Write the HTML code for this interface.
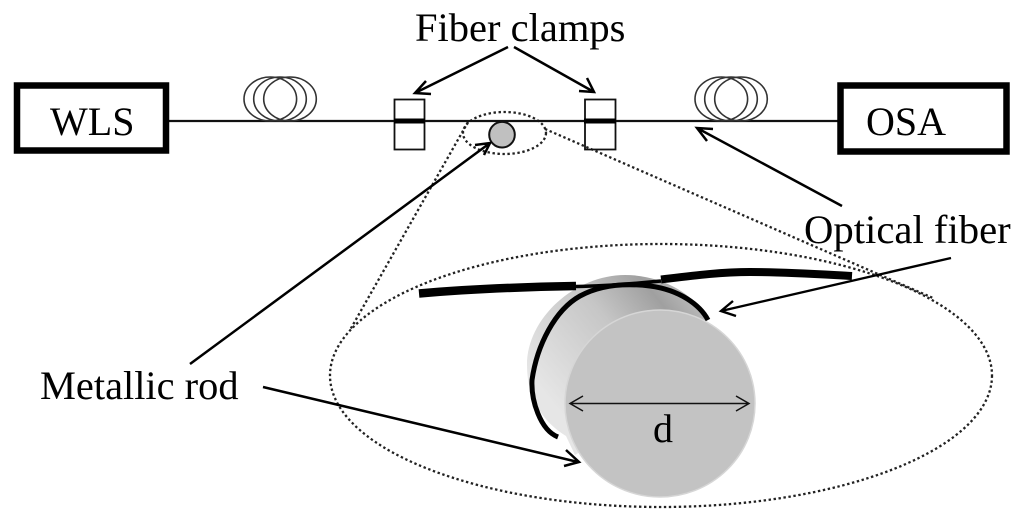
<!DOCTYPE html>
<html><head><meta charset="utf-8"><style>
html,body{margin:0;padding:0;background:#fff;width:1024px;height:522px;overflow:hidden}
svg{display:block}
text{font-family:"Liberation Serif",serif;fill:#000}
</style></head><body>
<svg width="1024" height="522" viewBox="0 0 1024 522" xmlns="http://www.w3.org/2000/svg">
<defs>
<linearGradient id="b" gradientUnits="userSpaceOnUse" x1="545" y1="395" x2="680" y2="285">
<stop offset="0" stop-color="#e6e6e6"/><stop offset=".55" stop-color="#c6c6c6"/><stop offset=".85" stop-color="#a0a0a0"/><stop offset="1" stop-color="#b8b8b8"/>
</linearGradient>
</defs>
<!-- dotted -->
<g fill="none" stroke="#222" stroke-width="2.300" stroke-dasharray="2.400 2.600">
<ellipse cx="661" cy="375.500" rx="331" ry="131.500"/>
<ellipse cx="504.500" cy="133" rx="41.500" ry="21"/>
<path d="M468 122L350 330M545 129L933 298"/>
</g>
<!-- main line -->
<path d="M168 121H838" stroke="#111" stroke-width="2.200" fill="none"/>
<!-- boxes -->
<rect x="17" y="85.500" width="149" height="65" fill="#fff" stroke="#000" stroke-width="6.500"/>
<rect x="840.500" y="85.500" width="166" height="66" fill="#fff" stroke="#000" stroke-width="6.500"/>
<!-- coils -->
<g fill="none" stroke="#333" stroke-width="1.600">
<ellipse cx="270.300" cy="99" rx="26.300" ry="22"/><ellipse cx="280" cy="99" rx="26.300" ry="22"/><ellipse cx="290" cy="99" rx="26.300" ry="22"/>
<ellipse cx="721.300" cy="99" rx="26.300" ry="22"/><ellipse cx="731" cy="99" rx="26.300" ry="22"/><ellipse cx="741" cy="99" rx="26.300" ry="22"/>
</g>
<!-- clamps -->
<g fill="none" stroke="#111" stroke-width="1.800">
<rect x="394.500" y="99.500" width="30" height="50"/><rect x="585" y="99.500" width="30.500" height="50"/>
</g>
<path d="M394 121H425M584 121H616" stroke="#000" stroke-width="5"/>
<!-- small rod -->
<circle cx="502" cy="134.700" r="12.800" fill="#c0c0c0" stroke="#111" stroke-width="2"/>
<!-- cylinder -->
<path d="M527 365C527 318 575 275 625 275C660 275 692 292 708 318L660 403L575 455L566 436C540 420 527 395 527 365Z" fill="url(#b)"/>
<ellipse cx="660" cy="403.500" rx="95" ry="93.500" fill="#c3c3c3" stroke="#d6d6d6" stroke-width="1.500"/>
<!-- fiber -->
<path d="M419 293.500C470 289 520 287 576 286" stroke="#000" stroke-width="8.500" fill="none"/>
<path d="M576 286.500C610 286 640 283 661 281" stroke="#000" stroke-width="3.500" fill="none"/>
<path d="M661 279.500C690 276 720 272 750 272C785 272 815 274 852 276" stroke="#000" stroke-width="8" fill="none"/>
<path d="M708 320C700 305 680 290 650 286C625 283 600 285 580 296C555 310 537 345 532 380C531 400 540 430 558 437" stroke="#000" stroke-width="5" fill="none"/>
<!-- arrows -->
<g fill="none" stroke="#000" stroke-width="2.500">
<path d="M508 47L415 93M426 81L415 93L431 94"/>
<path d="M514 47L594 92M587 78L594 92L579 91"/>
<path d="M190 364L490 143M475 145L490 143L484 155"/>
<path d="M263 387L578 462M566 450L579 462L564 466"/>
<path d="M842 206L697 128M707 141L697 128L713 129"/>
<path d="M951 258L721 311M733 301L721 311L736 316" stroke-width="2.400"/>
</g>
<path d="M570 403.500H749M583 396L570 403.500L583 411M736 396L749 403.500L736 411" fill="none" stroke="#111" stroke-width="1.500"/>
<!-- text -->
<text x="50" y="135" font-size="40">WLS</text>
<text x="866" y="135" font-size="40">OSA</text>
<text x="415" y="41" font-size="40.500">Fiber clamps</text>
<text x="804" y="243" font-size="40.700">Optical fiber</text>
<text x="40" y="399" font-size="40.400">Metallic rod</text>
<text x="653" y="442" font-size="40">d</text>
</svg>
</body></html>
